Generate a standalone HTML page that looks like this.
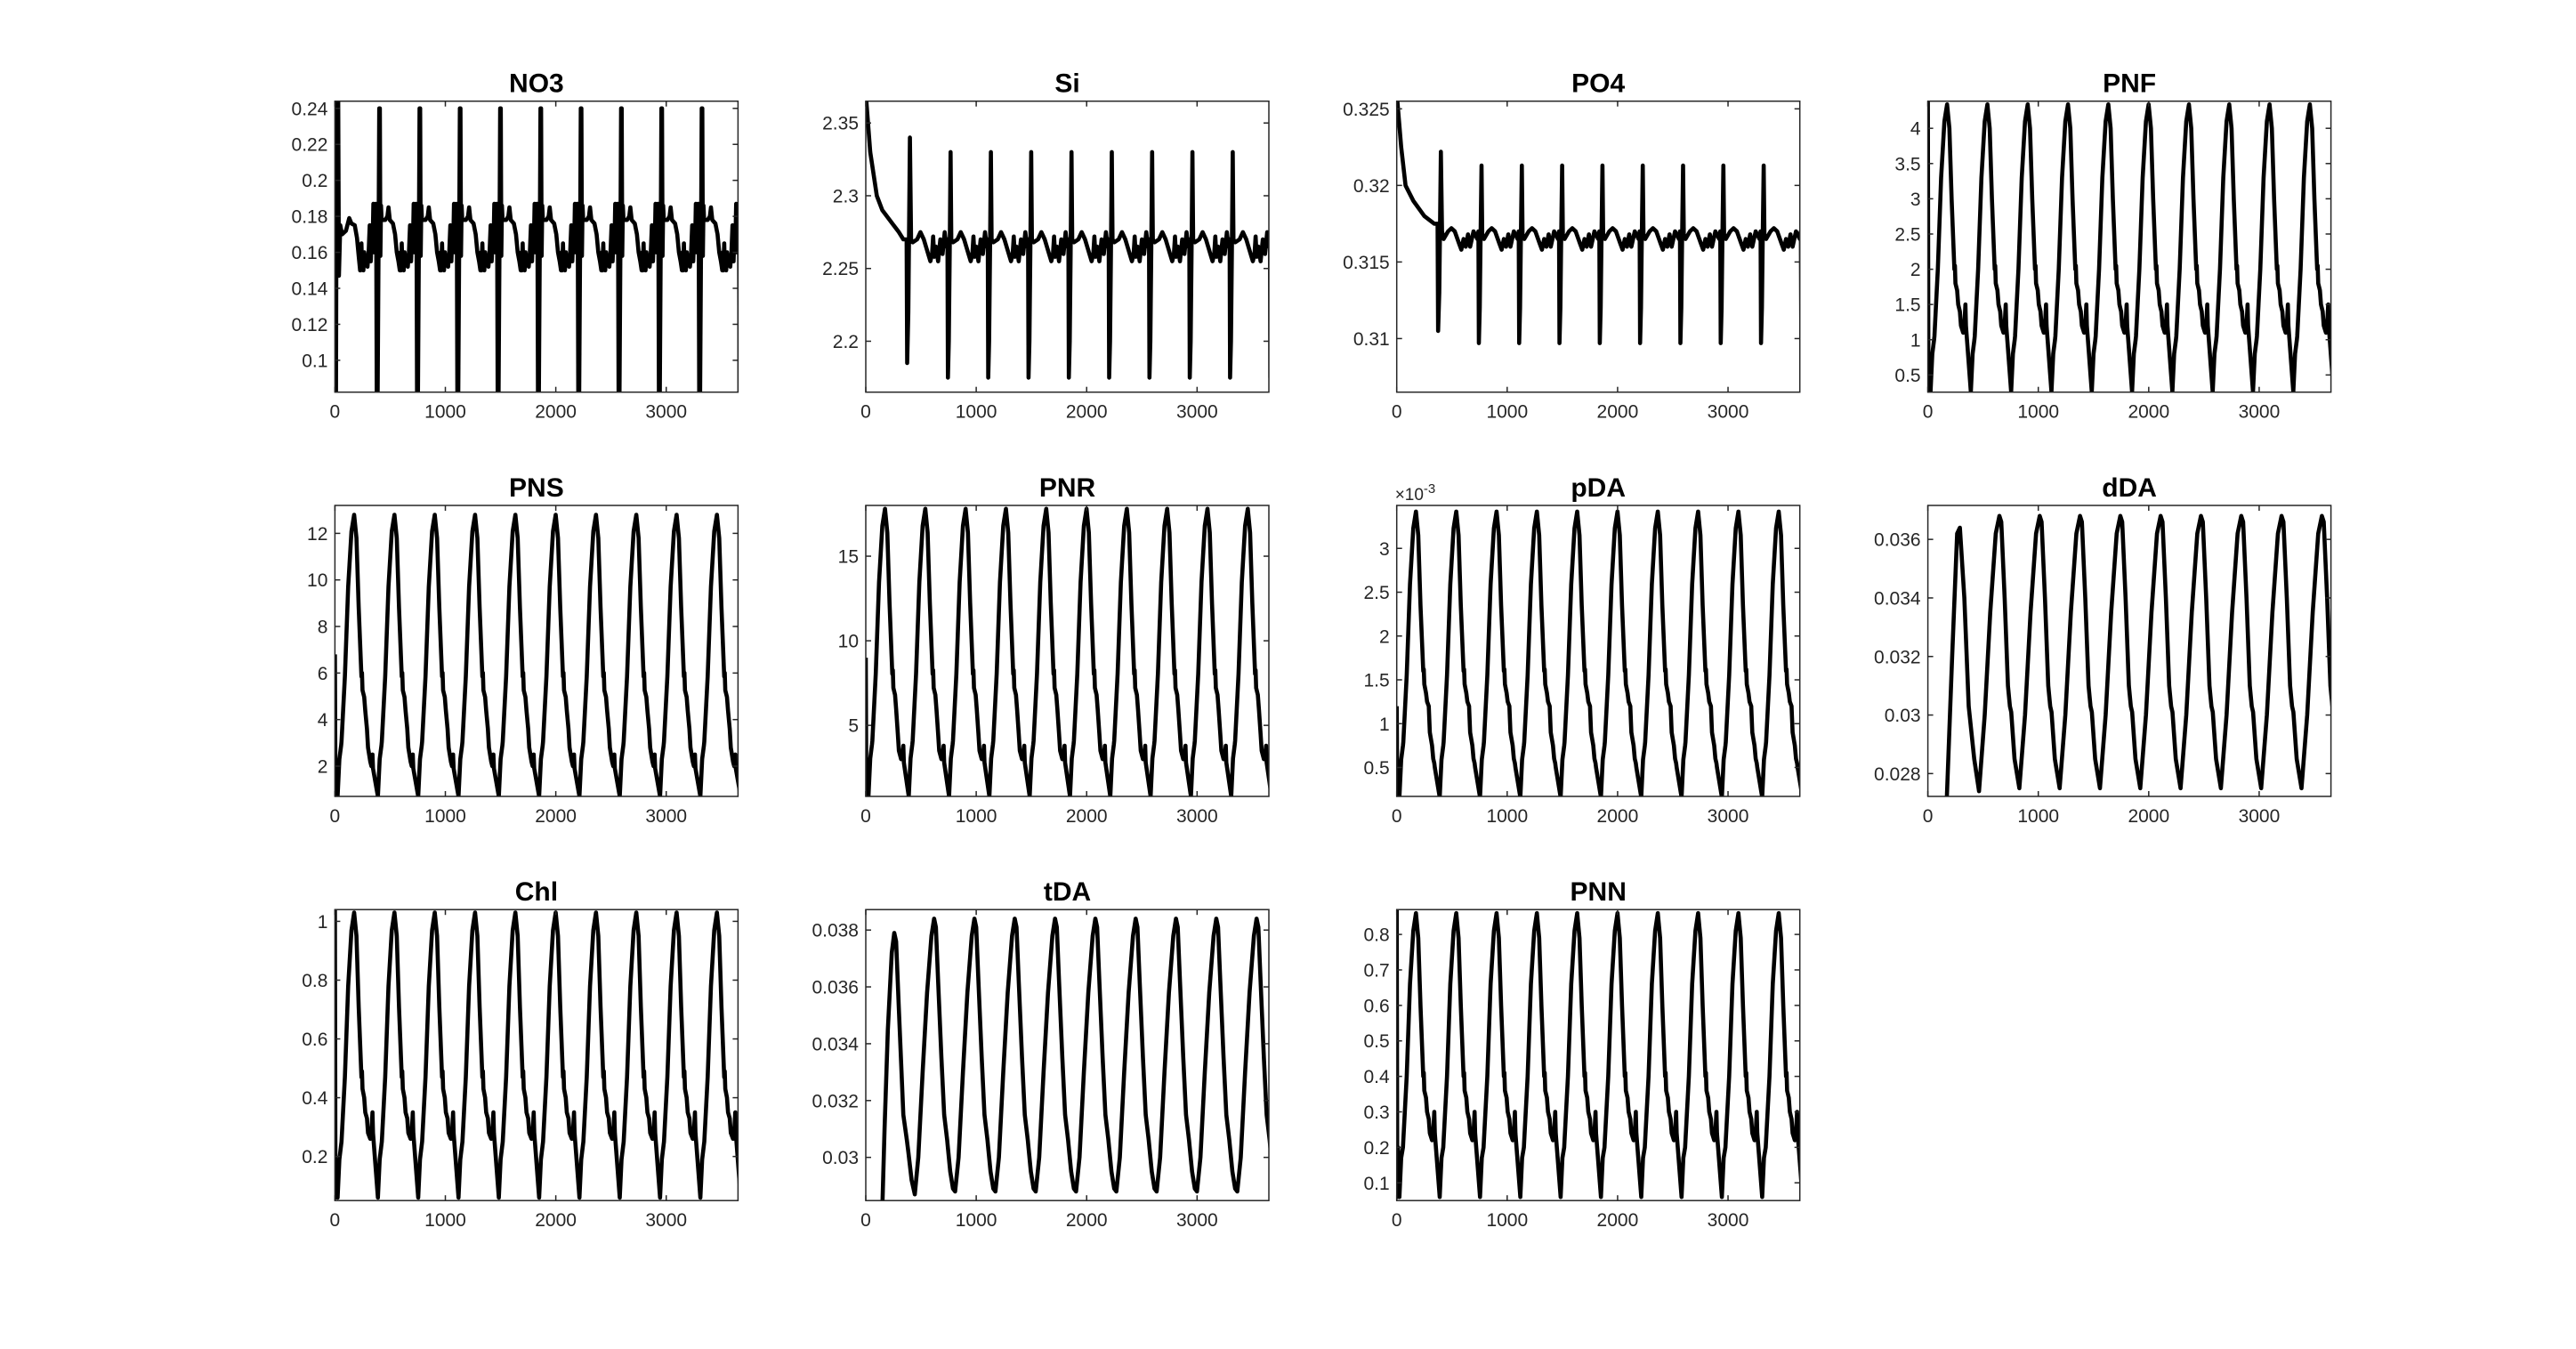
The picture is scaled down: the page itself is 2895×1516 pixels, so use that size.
<!DOCTYPE html>
<html><head><meta charset="utf-8"><style>
html,body{margin:0;padding:0;background:#fff;}
svg{display:block;font-family:"Liberation Sans",sans-serif;}
</style></head><body>
<svg id="fig" width="2895" height="1516" viewBox="0 0 2895 1516" xmlns="http://www.w3.org/2000/svg"></svg>
<script>
// ---- data arrays (days) ----
const xTicks = [0, 1000, 2000, 3000];
const bloomT = [24,40,56,60,90,120,150,174,195,215,240,245,250,265,275,290,300,320,330,340,345,389];

const no3T = [0,5,10,14,22,30,36,42,47,52,58,90,110,120,132,160,180,195,210,222,228,232,240,246,252,258,266,275,285,295,305,315,325,335,340,348,356,365];
const no3V = [0.165,0.187,0.16,0.08,0.08,0.16,0.24,0.24,0.158,0.186,0.178,0.178,0.18,0.185,0.178,0.176,0.17,0.16,0.155,0.15,0.16,0.15,0.165,0.152,0.158,0.15,0.16,0.155,0.158,0.152,0.16,0.175,0.155,0.173,0.16,0.187,0.16,0.165];
const no3Start = [[0,0.244],[4,0.08],[10,0.08],[16,0.244],[30,0.244],[36,0.147],[48,0.175],[65,0.17],[100,0.172],[130,0.179],[150,0.176],[180,0.175],[200,0.168],[215,0.158],[228,0.15]];

const siT = [0,10,14,22,30,38,44,60,100,130,160,200,220,235,245,255,270,290,310,330,350,365];
const siV = [2.265,2.27,2.175,2.20,2.26,2.33,2.27,2.268,2.27,2.275,2.27,2.26,2.255,2.26,2.272,2.258,2.265,2.255,2.27,2.26,2.275,2.265];
const siStart = [[0,2.37],[40,2.33],[100,2.30],[150,2.29],[200,2.285],[250,2.28],[300,2.275],[340,2.27],[370,2.27],[375,2.185],[385,2.22],[400,2.34],[410,2.27]];

const po4T = [0,10,14,22,30,38,44,60,100,130,160,200,220,240,260,280,300,330,365];
const po4V = [0.3165,0.317,0.3097,0.312,0.317,0.3213,0.3168,0.3165,0.317,0.3172,0.317,0.3162,0.3158,0.3165,0.316,0.3168,0.316,0.317,0.3165];
const po4Start = [[0,0.326],[40,0.3225],[80,0.320],[150,0.319],[250,0.318],[340,0.3175],[370,0.3175],[375,0.3105],[385,0.313],[400,0.3222],[410,0.317]];

const pnfV = [0.26,0.8,1.0,1.05,2.0,3.3,4.1,4.34,4.0,3.0,2.0,2.05,1.8,1.7,1.5,1.4,1.2,1.1,1.2,1.5,1.2,0.26];
const pnsV = [0.7,2.30,2.89,3.05,5.85,9.71,12.09,12.8,11.80,8.83,5.85,6.01,5.26,4.97,4.38,3.6,2.8,2.2,2.0,2.5,1.9,0.7];
const pnrV = [0.8,3.04,3.88,4.1,8.04,13.47,16.8,17.8,16.39,12.22,8.04,8.26,7.21,6.8,5.97,4.5,3.5,3.0,3.2,3.8,2.8,0.8];
const pdaV = [0.16e-3,0.59e-3,0.75e-3,0.79e-3,1.55e-3,2.59e-3,3.23e-3,3.42e-3,3.15e-3,2.35e-3,1.6e-3,1.62e-3,1.45e-3,1.35e-3,1.25e-3,1.2e-3,0.9e-3,0.75e-3,0.6e-3,0.55e-3,0.5e-3,0.16e-3];
const chlV = [0.06,0.19,0.24,0.25,0.47,0.78,0.97,1.03,0.95,0.71,0.47,0.49,0.43,0.40,0.35,0.33,0.28,0.26,0.28,0.35,0.28,0.06];
const pnnV = [0.06,0.17,0.20,0.22,0.40,0.66,0.81,0.86,0.79,0.60,0.40,0.41,0.36,0.34,0.30,0.28,0.24,0.22,0.24,0.30,0.24,0.06];

const ddaT = [98,150,200,250,283,300,330,360,378,390,420,463];
const ddaV = [0.0275,0.0300,0.0335,0.0362,0.0368,0.0366,0.0340,0.0310,0.0303,0.0301,0.0285,0.0275];
const ddaStart = [[170,0.0270],[220,0.0320],[265,0.0362],[290,0.0364],[330,0.0340],[370,0.0303],[420,0.0285],[463,0.0274]];

const tdaT = [79,110,150,190,230,254,270,290,320,345,372,377,400,425,444];
const tdaV = [0.0288,0.0300,0.0330,0.0358,0.0378,0.0384,0.0381,0.0362,0.0335,0.0315,0.0306,0.0304,0.0295,0.0289,0.0288];
const tdaStart = [[148,0.0280],[170,0.0310],[200,0.0345],[235,0.0372],[258,0.0379],[275,0.0376],[300,0.0352],[340,0.0315],[372,0.0306],[385,0.0302],[415,0.0292],[444,0.0287]];

const panels = [
 {name:'NO3', col:0,row:0, ylim:[0.0823,0.244], yt:[0.1,0.12,0.14,0.16,0.18,0.2,0.22,0.24], yl:['0.1','0.12','0.14','0.16','0.18','0.2','0.22','0.24'], T:no3T, V:no3V, start:no3Start},
 {name:'Si', col:1,row:0, ylim:[2.165,2.365], yt:[2.2,2.25,2.3,2.35], yl:['2.2','2.25','2.3','2.35'], T:siT, V:siV, start:siStart},
 {name:'PO4', col:2,row:0, ylim:[0.3065,0.3255], yt:[0.31,0.315,0.32,0.325], yl:['0.31','0.315','0.32','0.325'], T:po4T, V:po4V, start:po4Start},
 {name:'PNF', col:3,row:0, ylim:[0.256,4.385], yt:[0.5,1,1.5,2,2.5,3,3.5,4], yl:['0.5','1','1.5','2','2.5','3','3.5','4'], T:bloomT, V:pnfV, start:[[0,4.385],[5,0.5],[12,0.26]]},
 {name:'PNS', col:0,row:1, ylim:[0.7,13.2], yt:[2,4,6,8,10,12], yl:['2','4','6','8','10','12'], T:bloomT, V:pnsV, start:[[0,6.8],[5,0.7],[12,0.7]]},
 {name:'PNR', col:1,row:1, ylim:[0.8,18], yt:[5,10,15], yl:['5','10','15'], T:bloomT, V:pnrV, start:[[0,9],[5,0.8],[12,0.8]]},
 {name:'pDA', col:2,row:1, ylim:[0.17e-3,3.49e-3], yt:[0.5e-3,1e-3,1.5e-3,2e-3,2.5e-3,3e-3], yl:['0.5','1','1.5','2','2.5','3'], T:bloomT, V:pdaV, start:[[0,1.2e-3],[5,0.17e-3],[12,0.17e-3]], exp:true},
 {name:'dDA', col:3,row:1, ylim:[0.02722,0.03716], yt:[0.028,0.03,0.032,0.034,0.036], yl:['0.028','0.03','0.032','0.034','0.036'], T:ddaT, V:ddaV, start:ddaStart},
 {name:'Chl', col:0,row:2, ylim:[0.05,1.04], yt:[0.2,0.4,0.6,0.8,1], yl:['0.2','0.4','0.6','0.8','1'], T:bloomT, V:chlV, start:[[0,1.04],[5,0.06],[12,0.12]]},
 {name:'tDA', col:1,row:2, ylim:[0.02848,0.03872], yt:[0.03,0.032,0.034,0.036,0.038], yl:['0.03','0.032','0.034','0.036','0.038'], T:tdaT, V:tdaV, start:tdaStart},
 {name:'PNN', col:2,row:2, ylim:[0.05,0.87], yt:[0.1,0.2,0.3,0.4,0.5,0.6,0.7,0.8], yl:['0.1','0.2','0.3','0.4','0.5','0.6','0.7','0.8'], T:bloomT, V:pnnV, start:[[0,0.87],[5,0.06],[12,0.2]]}
];

const NS='http://www.w3.org/2000/svg';
const svg=document.getElementById('fig');
const colX=[376.4,973,1569.7,2166.6], rowY=[113.7,568,1022.2], W=453, H=327, XMAX=3650, PERIOD=365;
function mk(tag,attrs,parent){const e=document.createElementNS(NS,tag);for(const k in attrs)e.setAttribute(k,attrs[k]);(parent||svg).appendChild(e);return e;}

panels.forEach((p,i)=>{
  const x0=colX[p.col], y0=rowY[p.row];
  const sx=t=>x0+t/XMAX*W;
  const sy=v=>y0+H-(v-p.ylim[0])/(p.ylim[1]-p.ylim[0])*H;
  const g=mk('g',{});
  
  
  const cp=mk('clipPath',{id:'c'+i},g);
  mk('rect',{x:x0,y:y0,width:W,height:H},cp);
  mk('rect',{x:x0,y:y0,width:W,height:H,fill:'#fff'},g);
  const pts=p.start.map(a=>[a[0],a[1]]);
  const lastStart=pts[pts.length-1][0];
  for(let k=0;k<=11;k++){
    for(let j=0;j<p.T.length;j++){
      const t=p.T[j]+k*PERIOD;
      if(t>lastStart && t<=XMAX+PERIOD) pts.push([t,p.V[j]]);
    }
  }
  const d=pts.map((q,j)=>(j?'L':'M')+sx(q[0]).toFixed(1)+','+sy(q[1]).toFixed(1)).join('');
  const line=mk('path',{d:d,fill:'none',stroke:'#000','stroke-width':4.6,'stroke-linejoin':'round','clip-path':'url(#c'+i+')'},g);
  
  
  const box=mk('rect',{x:x0,y:y0,width:W,height:H,fill:'none',stroke:'#262626','stroke-width':1.5},g);
  
  
  xTicks.forEach(t=>{
    const X=sx(t);
    mk('line',{x1:X,y1:y0+H,x2:X,y2:y0+H-6,stroke:'#262626','stroke-width':1.5},g);
    mk('line',{x1:X,y1:y0,x2:X,y2:y0+6,stroke:'#262626','stroke-width':1.5},g);
    const tx=mk('text',{x:X,y:y0+H+29,'font-size':21,fill:'#262626','text-anchor':'middle'},g);
    tx.textContent=String(t);
    
    
  });
  p.yt.forEach((v,j)=>{
    const Y=sy(v);
    mk('line',{x1:x0,y1:Y,x2:x0+6,y2:Y,stroke:'#262626','stroke-width':1.5},g);
    mk('line',{x1:x0+W,y1:Y,x2:x0+W-6,y2:Y,stroke:'#262626','stroke-width':1.5},g);
    const ty=mk('text',{x:x0-8,y:Y+7.5,'font-size':21,fill:'#262626','text-anchor':'end'},g);
    ty.textContent=p.yl[j];
    
    
  });
  if(p.exp){
    const ex=mk('text',{x:x0-2,y:y0-6,'font-size':19,fill:'#262626'},g);
    ex.innerHTML='×10<tspan dy="-8" font-size="15">-3</tspan>';
    
    
  }
  const tt=mk('text',{x:x0+W/2,y:y0-10,'font-size':30,'font-weight':'bold',fill:'#000','text-anchor':'middle'},g);
  tt.textContent=p.name;
  
  
});
</script>
</body></html>
